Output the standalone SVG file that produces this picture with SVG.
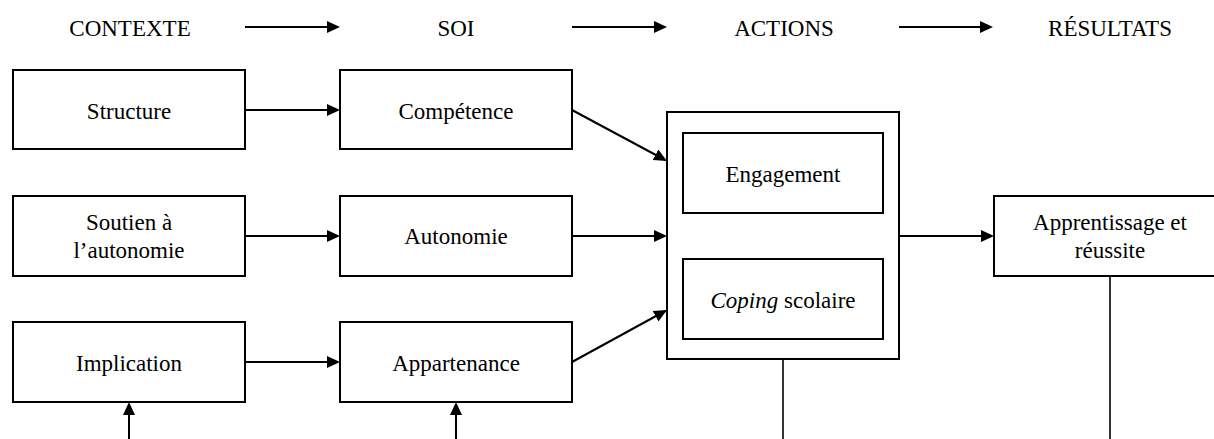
<svg xmlns="http://www.w3.org/2000/svg" width="1214" height="439" viewBox="0 0 1214 439">
  <style>
    .box { fill: #ffffff; stroke: #000000; stroke-width: 2; }
    .t { font-family: "Liberation Serif", "Times New Roman", serif; font-size: 23px; fill: #000000; text-anchor: middle; }
    .ln { fill: none; stroke: #000000; stroke-width: 2; }
    .thin { fill: none; stroke: #000000; stroke-width: 1.6; }
  </style>
  <defs>
    <marker id="ah" viewBox="0 0 13 12" refX="11" refY="6" markerWidth="13" markerHeight="12" markerUnits="userSpaceOnUse" orient="auto-start-reverse">
      <path d="M0,0 L13,6 L0,12 z" fill="#000000"/>
    </marker>
  </defs>
  <rect width="1214" height="439" fill="#ffffff"/>

  <g id="headers">
    <text class="t" x="130" y="36">CONTEXTE</text>
    <text class="t" x="456" y="36">SOI</text>
    <text class="t" x="784" y="36">ACTIONS</text>
    <text class="t" x="1110" y="36">RÉSULTATS</text>
  </g>

  <g id="connectors">
    <path class="ln" d="M245,27 H338" marker-end="url(#ah)"/>
    <path class="ln" d="M572,27 H665" marker-end="url(#ah)"/>
    <path class="ln" d="M899,27 H991" marker-end="url(#ah)"/>
    <path class="ln" d="M245,110 H338" marker-end="url(#ah)"/>
    <path class="ln" d="M245,236 H338" marker-end="url(#ah)"/>
    <path class="ln" d="M245,362 H338" marker-end="url(#ah)"/>
    <path class="ln" d="M572,110 L665.2,160" marker-end="url(#ah)"/>
    <path class="ln" d="M572,236 H665" marker-end="url(#ah)"/>
    <path class="ln" d="M572,362 L665.2,311" marker-end="url(#ah)"/>
    <path class="ln" d="M783,215 V257" marker-start="url(#ah)" marker-end="url(#ah)"/>
    <path class="ln" d="M899,236 H992" marker-end="url(#ah)"/>
    <path class="ln" d="M129,439 V404" marker-end="url(#ah)"/>
    <path class="ln" d="M456,439 V404" marker-end="url(#ah)"/>
    <path class="thin" d="M783,359 V439"/>
    <path class="thin" d="M1110,276 V439"/>
  </g>

  <g id="structure">
    <rect class="box" x="13" y="70" width="232" height="79"/>
    <text class="t" x="129" y="119">Structure</text>
  </g>
  <g id="competence">
    <rect class="box" x="340" y="70" width="232" height="79"/>
    <text class="t" x="456" y="119">Compétence</text>
  </g>
  <g id="soutien">
    <rect class="box" x="13" y="196" width="232" height="80"/>
    <text class="t" x="129" y="230">Soutien à</text>
    <text class="t" x="129" y="258">l’autonomie</text>
  </g>
  <g id="autonomie">
    <rect class="box" x="340" y="196" width="232" height="80"/>
    <text class="t" x="456" y="244">Autonomie</text>
  </g>
  <g id="implication">
    <rect class="box" x="13" y="322" width="232" height="80"/>
    <text class="t" x="129" y="371">Implication</text>
  </g>
  <g id="appartenance">
    <rect class="box" x="340" y="322" width="232" height="80"/>
    <text class="t" x="456" y="371">Appartenance</text>
  </g>
  <g id="actions">
    <rect class="box" x="667" y="112" width="232" height="247"/>
  </g>
  <g id="engagement">
    <rect class="box" x="683" y="133" width="200" height="80"/>
    <text class="t" x="783" y="182">Engagement</text>
  </g>
  <g id="coping">
    <rect class="box" x="683" y="259" width="200" height="80"/>
    <text class="t" x="783" y="308"><tspan font-style="italic">Coping</tspan> scolaire</text>
  </g>
  <g id="apprentissage">
    <rect class="box" x="994" y="196" width="232" height="80"/>
    <text class="t" x="1110" y="230">Apprentissage et</text>
    <text class="t" x="1110" y="258">réussite</text>
  </g>
</svg>
